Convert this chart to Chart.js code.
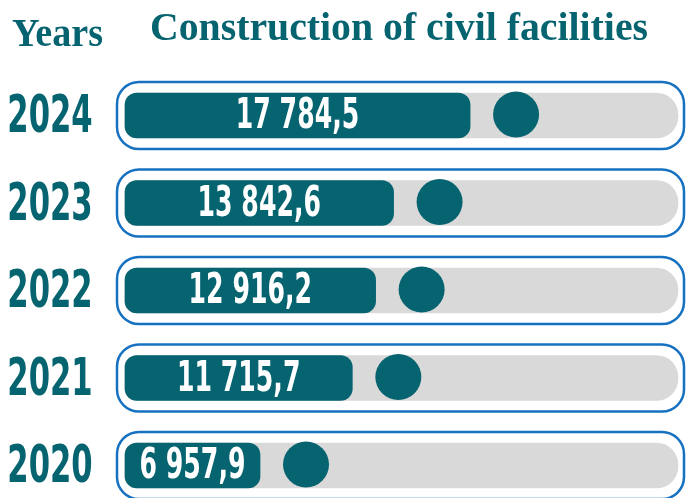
<!DOCTYPE html>
<html>
<head>
<meta charset="utf-8">
<script src="https://cdn.jsdelivr.net/npm/chart.js@4"></script>
<style>
  html, body { margin: 0; padding: 0; background: #fff; }
  #wrap { width: 686px; height: 498px; }
</style>
</head>
<body>
<div id="wrap"><canvas id="chart"></canvas></div>
<script>
const years = ['2024', '2023', '2022', '2021', '2020']
const values = [17784.5, 13842.6, 12916.2, 11715.7, 6957.9]
const valueLabels = ['17 784,5', '13 842,6', '12 916,2', '11 715,7', '6 957,9']
const axisMax = 28500
const trackValues = years.map(() => axisMax)

const teal = '#066370'
const blue = '#1771c1'
const sans = '"DejaVu Sans", sans-serif'
const serif = '"Liberation Serif", "DejaVu Serif", serif'

// squeezed text, the fonts here have no condensed cut
function narrowText(ctx, text, x, y, squeeze) {
    ctx.save()
    ctx.translate(x, y)
    ctx.scale(squeeze, 1)
    ctx.fillText(text, 0, 0)
    ctx.restore()
}

// frames, dots, value text, year labels and headings
const decor = {
    id: 'decor',
    beforeDatasetsDraw(chart) {
        const ctx = chart.ctx
        const bars = chart.getDatasetMeta(1).data
        ctx.save()
        ctx.strokeStyle = blue
        ctx.lineWidth = 2.5
        bars.forEach(bar => {
            ctx.beginPath()
            ctx.roundRect(117, bar.y - 33.5, 567, 67, 22)
            ctx.stroke()
        })
        ctx.restore()
    },
    afterDatasetsDraw(chart) {
        const ctx = chart.ctx
        const bars = chart.getDatasetMeta(1).data
        const yScale = chart.scales.y
        ctx.save()
        ctx.textAlign = 'center'
        ctx.textBaseline = 'middle'
        bars.forEach((bar, i) => {
            ctx.fillStyle = teal
            ctx.beginPath()
            ctx.arc(bar.x + 46, bar.y - 1, 23, 0, Math.PI * 2)
            ctx.fill()
            ctx.fillStyle = '#fff'
            ctx.font = 'bold 42px ' + sans
            narrowText(ctx, valueLabels[i], (bar.base + bar.x) / 2, bar.y + 2, 0.6)
        })
        ctx.fillStyle = teal
        ctx.font = 'bold 52px ' + sans
        years.forEach((year, i) => {
            narrowText(ctx, year, 50, yScale.getPixelForTick(i) + 3, 0.59)
        })
        ctx.textAlign = 'left'
        ctx.textBaseline = 'alphabetic'
        ctx.font = 'bold 40px ' + serif
        ctx.fillText('Years', 12, 46, 91)
        ctx.fillText('Construction of civil facilities', 150, 40, 498)
        ctx.restore()
    }
}

new Chart(document.getElementById('chart'), {
    type: 'bar',
    data: {
        labels: years,
        datasets: [
            {
                data: trackValues,
                backgroundColor: '#d9d9d9',
                borderSkipped: false,
                borderRadius: { topLeft: 12, bottomLeft: 12, topRight: 22, bottomRight: 22 },
                barThickness: 45,
                grouped: false,
                order: 2,
                clip: false,
            },
            {
                data: values,
                backgroundColor: teal,
                borderSkipped: false,
                borderRadius: 12,
                barThickness: 45,
                grouped: false,
                order: 1,
                clip: false,
            },
        ],
    },
    options: {
        indexAxis: 'y',
        responsive: true,
        maintainAspectRatio: false,
        animation: false,
        layout: { padding: { top: 115.5, bottom: 32.5, left: 0, right: 8 } },
        plugins: {
            legend: { display: false },
            tooltip: { enabled: false },
        },
        scales: {
            x: { display: false, min: 0, max: axisMax },
            y: {
                offset: false,
                border: { display: false },
                grid: { display: false, drawTicks: false },
                afterFit(scale) { scale.width = 125 },
                ticks: { display: false },
            },
        },
    },
    plugins: [decor],
})
</script>
</body>
</html>
